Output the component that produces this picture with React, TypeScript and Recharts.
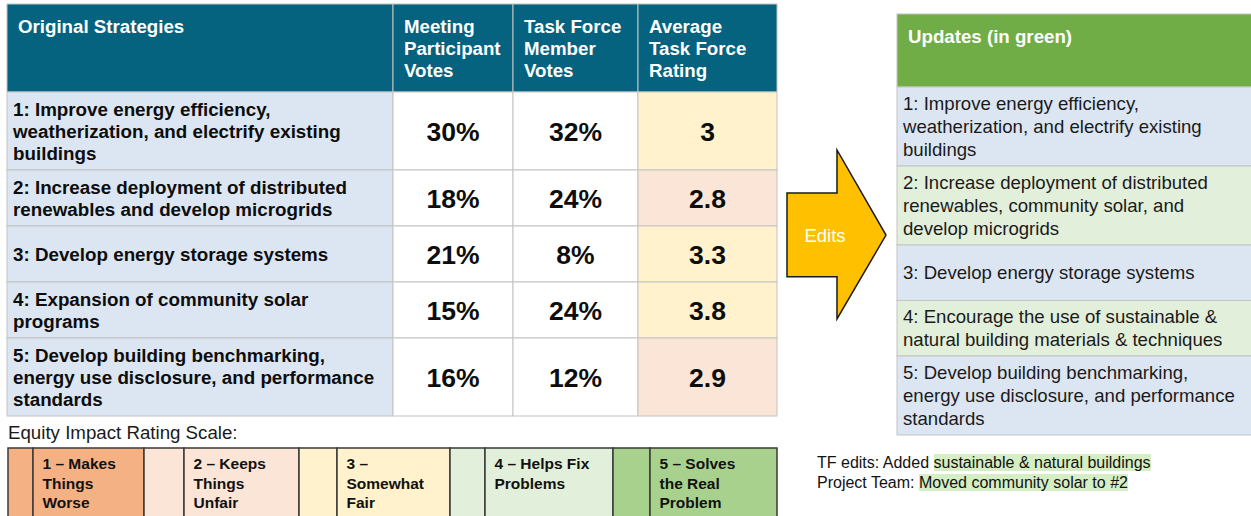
import React from "react";
import { ComposedChart, XAxis, YAxis, ReferenceArea } from "recharts";

// ---- data ----
const leftHeaders = [
  ["Original Strategies"],
  ["Meeting", "Participant", "Votes"],
  ["Task Force", "Member", "Votes"],
  ["Average", "Task Force", "Rating"],
];
const strategies = [
  ["1: Improve energy efficiency,", "weatherization, and electrify existing", "buildings"],
  ["2: Increase deployment of distributed", "renewables and develop microgrids"],
  ["3: Develop energy storage systems"],
  ["4: Expansion of community solar", "programs"],
  ["5: Develop building benchmarking,", "energy use disclosure, and performance", "standards"],
];
const participantVotes = [30, 18, 21, 15, 16];
const taskForceVotes = [32, 24, 8, 24, 12];
const avgRating = [3, 2.8, 3.3, 3.8, 2.9];

const updatesHeader = "Updates (in green)";
const updatedStrategies = [
  ["1: Improve energy efficiency,", "weatherization, and electrify existing", "buildings"],
  ["2: Increase deployment of distributed", "renewables, community solar, and", "develop microgrids"],
  ["3: Develop energy storage systems"],
  ["4: Encourage the use of sustainable &", "natural building materials & techniques"],
  ["5: Develop building benchmarking,", "energy use disclosure, and performance", "standards"],
];
const isUpdated = [false, true, false, true, false];

const scaleTitle = "Equity Impact Rating Scale:";
const scaleLabels = [
  ["1 – Makes", "Things", "Worse"],
  ["2 – Keeps", "Things", "Unfair"],
  ["3 –", "Somewhat", "Fair"],
  ["4 – Helps Fix", "Problems"],
  ["5 – Solves", "the Real", "Problem"],
];
const arrowLabel = "Edits";
const noteLeads = ["TF edits: Added ", "Project Team: "];
const noteMarks = ["sustainable & natural buildings", "Moved community solar to #2"];

// ---- layout / style ----
const W = 1251;
const H = 516;
const FONT = "'Liberation Sans', Arial, Helvetica, sans-serif";
const GRID = "#c3c3c3";
const TEAL = "#06637f";
const GREEN_HEAD = "#70ad47";
const BLUE = "#dce6f2";
const LIGHT_GREEN = "#e2efda";
const SCALE_COLORS = ["#f4b183", "#fbe5d6", "#fff2cc", "#e2efda", "#a9d18e"];

const LEFT_COLS = [7, 393, 513, 638, 777];
const LEFT_TOP = 4;
const LEFT_HEAD_H = 88;
const leftRowH = (n: number) => 12 + 22 * Math.max(2, n);

const RIGHT_X = [897, 1252];
const RIGHT_TOP = 14;
const RIGHT_HEAD_H = 73;
const rightRowH = (n: number) => 8.5 + 23.5 * Math.max(2, n);

const SCALE_EDGES = [8, 33, 144, 184, 299, 337, 450, 485, 613, 650, 777];
const SCALE_TOP = 448;

type TextStyle = {
  size: number;
  weight?: string;
  color?: string;
  align?: "start" | "middle";
  padX?: number;
  lh: number;
  top?: number; // baseline offset from top when top-aligned
  shift?: number; // baseline shift when vertically centered
  stroke?: string;
  sw?: number;
};

const textCell = (fill: string, lines: string[], t: TextStyle) => (p: any) => {
  const { x, y, width, height } = p;
  const n = lines.length;
  const tx = t.align === "middle" ? x + width / 2 : x + (t.padX ?? 6);
  const firstY =
    t.top !== undefined ? y + t.top : y + height / 2 - ((n - 1) * t.lh) / 2 + (t.shift ?? 0);
  return (
    <g>
      <rect
        x={x}
        y={y}
        width={width}
        height={height}
        fill={fill}
        stroke={t.stroke ?? GRID}
        strokeWidth={t.sw ?? 1}
      />
      <text
        fontFamily={FONT}
        fontSize={t.size}
        fontWeight={t.weight ?? "normal"}
        fill={t.color ?? "#000"}
        textAnchor={t.align === "middle" ? "middle" : "start"}
      >
        {lines.map((l, i) => (
          <tspan key={i} x={tx} y={firstY + i * t.lh}>
            {l}
          </tspan>
        ))}
      </text>
    </g>
  );
};

const arrowShape = (p: any) => {
  const { x, y, width: w, height: h } = p;
  const headX = x + w * 0.505;
  const sTop = y + h * 0.254;
  const sBot = y + h * 0.75;
  const pts = [
    [x, sTop],
    [headX, sTop],
    [headX, y],
    [x + w, y + h * 0.503],
    [headX, y + h],
    [headX, sBot],
    [x, sBot],
  ]
    .map((q) => q.join(","))
    .join(" ");
  return (
    <g>
      <polygon points={pts} fill="#ffc000" stroke="#1a1a1a" strokeWidth={1.5} strokeLinejoin="miter" />
      <text x={x + 38} y={y + 92} fontFamily={FONT} fontSize={18.5} fill="#fff" textAnchor="middle">
        {arrowLabel}
      </text>
    </g>
  );
};

const ratingFill = (r: number) =>
  r < 2 ? SCALE_COLORS[0] : r < 3 ? SCALE_COLORS[1] : r < 4 ? SCALE_COLORS[2] : r < 5 ? SCALE_COLORS[3] : SCALE_COLORS[4];

type CellSpec = { x1: number; x2: number; y1: number; y2: number; shape: (p: any) => any };

function buildCells(): CellSpec[] {
  const cells: CellSpec[] = [];

  // left table header
  const headStyle: TextStyle = { size: 18.7, weight: "bold", color: "#fff", padX: 11, lh: 22, top: 29 };
  leftHeaders.forEach((h, c) => {
    cells.push({
      x1: LEFT_COLS[c],
      x2: LEFT_COLS[c + 1],
      y1: LEFT_TOP,
      y2: LEFT_TOP + LEFT_HEAD_H,
      shape: textCell(TEAL, h, headStyle),
    });
  });

  // left table body
  let y = LEFT_TOP + LEFT_HEAD_H;
  const nameStyle: TextStyle = { size: 18.8, weight: "bold", color: "#0d0d0d", padX: 6, lh: 22, shift: 7 };
  const numStyle: TextStyle = { size: 26.5, weight: "bold", color: "#0d0d0d", align: "middle", lh: 22, shift: 9.5 };
  strategies.forEach((lines, r) => {
    const h = leftRowH(lines.length);
    const vals = [`${participantVotes[r]}%`, `${taskForceVotes[r]}%`, `${avgRating[r]}`];
    const fills = [BLUE, "#fff", "#fff", ratingFill(avgRating[r])];
    cells.push({ x1: LEFT_COLS[0], x2: LEFT_COLS[1], y1: y, y2: y + h, shape: textCell(fills[0], lines, nameStyle) });
    vals.forEach((v, c) => {
      cells.push({
        x1: LEFT_COLS[c + 1],
        x2: LEFT_COLS[c + 2],
        y1: y,
        y2: y + h,
        shape: textCell(fills[c + 1], [v], numStyle),
      });
    });
    y += h;
  });

  // scale title
  cells.push({
    x1: 7,
    x2: 400,
    y1: y,
    y2: SCALE_TOP,
    shape: textCell("none", [scaleTitle], { size: 18.7, color: "#1a1a1a", padX: 1, lh: 20, top: 23, stroke: "none" }),
  });

  // scale legend
  const scaleStyle: TextStyle = { size: 15.5, weight: "bold", color: "#111", padX: 9.5, lh: 19.5, top: 21, stroke: "#3a3a3a", sw: 1.5 };
  scaleLabels.forEach((lines, i) => {
    const a = SCALE_EDGES[i * 2];
    const b = SCALE_EDGES[i * 2 + 1];
    const c = SCALE_EDGES[i * 2 + 2];
    cells.push({ x1: a, x2: b, y1: SCALE_TOP, y2: H + 10, shape: textCell(SCALE_COLORS[i], [], scaleStyle) });
    cells.push({ x1: b, x2: c, y1: SCALE_TOP, y2: H + 10, shape: textCell(SCALE_COLORS[i], lines, scaleStyle) });
  });

  // right table
  cells.push({
    x1: RIGHT_X[0],
    x2: RIGHT_X[1],
    y1: RIGHT_TOP,
    y2: RIGHT_TOP + RIGHT_HEAD_H,
    shape: textCell(GREEN_HEAD, [updatesHeader], { size: 18.7, weight: "bold", color: "#fff", padX: 11, lh: 22, top: 29 }),
  });
  let ry = RIGHT_TOP + RIGHT_HEAD_H;
  const updStyle: TextStyle = { size: 18.6, color: "#1a1a1a", padX: 6, lh: 23, shift: 6.5 };
  updatedStrategies.forEach((lines, r) => {
    const h = rightRowH(lines.length);
    cells.push({
      x1: RIGHT_X[0],
      x2: RIGHT_X[1],
      y1: ry,
      y2: ry + h,
      shape: textCell(isUpdated[r] ? LIGHT_GREEN : BLUE, lines, updStyle),
    });
    ry += h;
  });

  // arrow
  cells.push({ x1: 787, x2: 886, y1: 150, y2: 319, shape: arrowShape });
  return cells;
}

export default function App() {
  const cells = buildCells();
  const axisData = participantVotes.map((v, i) => ({ x: i, v }));
  return (
    <div style={{ position: "absolute", left: 0, top: 0, width: W, height: H, background: "#fff", overflow: "hidden" }}>
      <ComposedChart width={W} height={H} data={axisData} margin={{ top: 0, right: 0, bottom: 0, left: 0 }}>
        <XAxis type="number" dataKey="x" domain={[0, W]} allowDataOverflow hide />
        <YAxis type="number" domain={[0, H]} reversed allowDataOverflow hide />
        {cells.map((c, i) => (
          <ReferenceArea
            key={i}
            x1={c.x1}
            x2={c.x2}
            y1={c.y1}
            y2={c.y2}
            ifOverflow="visible"
            shape={c.shape}
          />
        ))}
      </ComposedChart>
      <div
        style={{
          position: "absolute",
          left: 817,
          top: 452.5,
          fontFamily: FONT,
          fontSize: 16,
          lineHeight: "20px",
          color: "#111",
          whiteSpace: "nowrap",
        }}
      >
        {noteLeads.map((lead, i) => (
          <div key={i}>
            {lead}
            <span style={{ background: "#d6eec4" }}>{noteMarks[i]}</span>
          </div>
        ))}
      </div>
    </div>
  );
}
